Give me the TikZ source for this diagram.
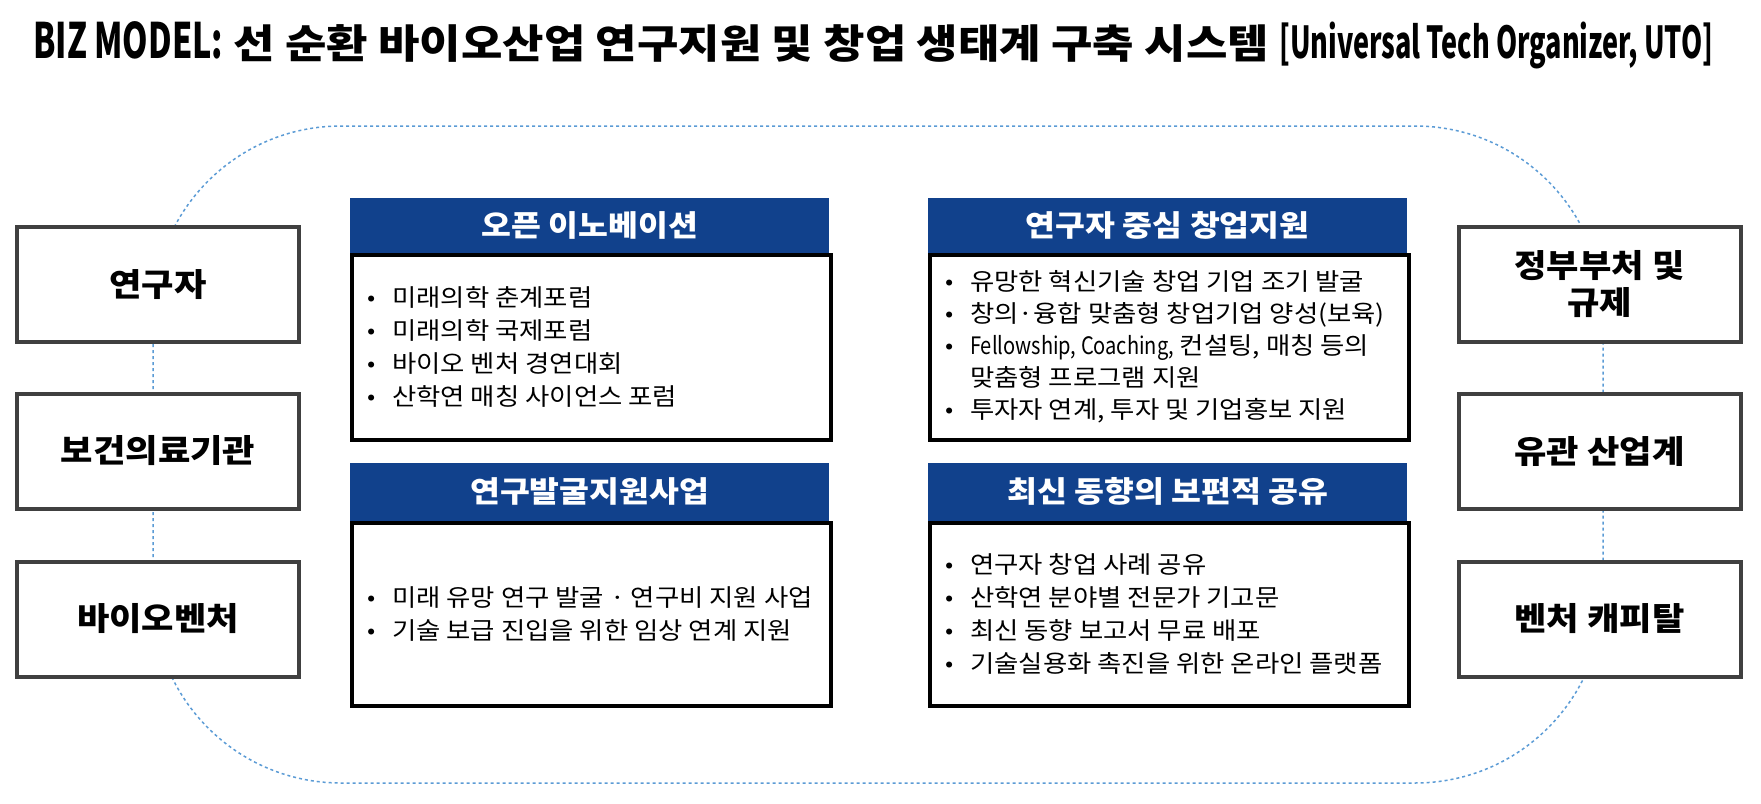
\documentclass[tikz,border=0pt]{standalone}
\usepackage{fontspec}
\usepackage{xcolor}
\usepackage{graphicx}
\setmainfont{Noto Sans CJK KR}[FakeStretch=1.1]
\definecolor{hdrblue}{RGB}{17,65,140}
\definecolor{loopblue}{RGB}{91,155,213}
\definecolor{boxgray}{RGB}{64,64,64}
\newcommand{\itm}{\makebox[25pt][l]{\raisebox{1pt}{\fontsize{22}{22}\selectfont\textbullet}}}

\begin{document}
\begin{tikzpicture}[x=1pt,y=-1pt,
  actor/.style={draw=boxgray,line width=4pt,fill=white,minimum width=282pt,minimum height=115pt,
    font=\fontsize{32}{37}\selectfont\bfseries,align=center,inner sep=0pt},
  paneltop/.style={fill=hdrblue,minimum width=479pt,minimum height=55pt,anchor=south west,
    font=\fontsize{29.5}{33}\selectfont\bfseries,text=white,inner sep=0pt},
  panelbody/.style={draw=black,line width=3.5pt,fill=white,minimum width=479pt,anchor=north west,inner sep=0pt},
  items/.style={anchor=west,align=left,font=\fontsize{24}{33}\selectfont,inner sep=0pt},
  loopline/.style={draw=loopblue,line width=1.5pt,dash pattern=on 3pt off 3pt}]
  \useasboundingbox (0,0) rectangle (1761,803);
  % title
  \node[anchor=west,inner sep=0pt,font=\fontsize{40}{44}\selectfont\bfseries] (title) at (33,45)
    {\resizebox{1680pt}{\height}{\scalebox{0.72}[1.22]{BIZ MODEL:} 선 순환 바이오산업 연구지원 및 창업 생태계 구축 시스템 \scalebox{0.6}[1.1]{[Universal Tech Organizer, UTO]}}};
  % dotted loop behind everything
  \coordinate (loopnw) at (153,126);
  \coordinate (loopse) at (1603,783);
  \draw[loopline,rounded corners=188pt] (loopnw) rectangle (loopse);
  % left and right actors
  \foreach \name/\lbl/\yy in {res/연구자/284.5, hosp/보건의료기관/451, bio/바이오벤처/619}
    \node[actor] (\name) at (158,\yy) {\lbl};
  \foreach \name/\lbl/\yy in {gov/{정부부처 및\\규제}/284.5, ind/유관 산업계/451, vc/벤처 캐피탈/619}
    \node[actor] (\name) at (1599.5,\yy) {\lbl};
  % middle panels
  \node[panelbody,minimum height=185pt] (innovbody) at (350,253) {};
  \node[paneltop] (innov) at (350,253) {오픈 이노베이션};
  \node[items] at ([xshift=17pt]innovbody.west) {\itm 미래의학 춘계포럼\\ \itm 미래의학 국제포럼\\ \itm 바이오 벤처 경연대회\\ \itm 산학연 매칭 사이언스 포럼};

  \node[panelbody,minimum height=183pt] (digbody) at (350,521) {};
  \node[paneltop,minimum height=58pt] (dig) at (350,521) {연구발굴지원사업};
  \node[items] at ([xshift=17pt]digbody.west) {\itm 미래 유망 연구 발굴 · 연구비 지원 사업\\ \itm 기술 보급 진입을 위한 임상 연계 지원};

  \node[panelbody,minimum height=185pt] (startbody) at (928,253) {};
  \node[paneltop] (start) at (928,253) {연구자 중심 창업지원};
  \node[items,font=\fontsize{24}{32}\selectfont] at ([xshift=17pt]startbody.west) {\itm 유망한 혁신기술 창업 기업 조기 발굴\\ \itm 창의·융합 맞춤형 창업기업 양성(보육)\\ \itm \scalebox{0.76}[1]{Fellowship, Coaching,} 컨설팅, 매칭 등의\\ \hspace*{25pt}맞춤형 프로그램 지원\\ \itm 투자자 연계, 투자 및 기업홍보 지원};

  \node[panelbody,minimum height=183pt] (trendbody) at (928,521) {};
  \node[paneltop,minimum height=58pt] (trend) at (928,521) {최신 동향의 보편적 공유};
  \node[items] at ([xshift=17pt]trendbody.west) {\itm 연구자 창업 사례 공유\\ \itm 산학연 분야별 전문가 기고문\\ \itm 최신 동향 보고서 무료 배포\\ \itm 기술실용화 촉진을 위한 온라인 플랫폼};
\end{tikzpicture}
\end{document}
